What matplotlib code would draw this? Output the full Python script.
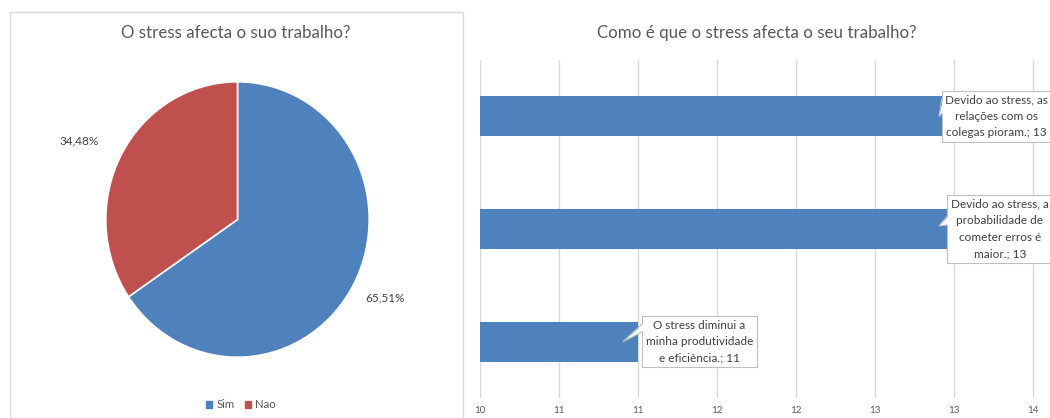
import math
import matplotlib
matplotlib.use("Agg")
import matplotlib.pyplot as plt
from matplotlib.patches import Rectangle, Patch, Polygon
from matplotlib.lines import Line2D

plt.rcParams['font.family'] = ['Lato', 'DejaVu Sans']

# ---- data ----
pie_labels = ["Sim", "Nao"]
pie_values = [65.51, 34.48]
pie_colors = ["#4F81BD", "#C0504D"]

bar_categories = [
    "Devido ao stress, as\nrelações com os\ncolegas pioram.",
    "Devido ao stress, a\nprobabilidade de\ncometer erros é\nmaior.",
    "O stress diminui a\nminha produtividade\ne eficiência.",
]
bar_values = [13, 13, 11]
bar_color = "#4F81BD"
x_ticks = [10, 10.5, 11, 11.5, 12, 12.5, 13, 13.5]
x_ticklabels = ["10", "11", "11", "12", "12", "13", "13", "14"]

TXT = "#595959"
GRID = "#D9D9D9"
CALL_EC = "#BFBFBF"
W, H = 1050, 418

fig = plt.figure(figsize=(W / 100, H / 100), dpi=100)


def fx(px):
    return px / W


def fy(py):
    return 1 - py / H


# left panel border
fig.patches.append(Rectangle((fx(10), fy(418)), fx(463) - fx(10), fy(12) - fy(418),
                             transform=fig.transFigure, fill=False, ec=GRID, lw=1.0))

# ---- pie (slightly elliptical, as in the reference) ----
cx, cy, rx, ry = 237.5, 219.5, 131.7, 137.7
axp = fig.add_axes([fx(cx - rx), fy(cy + ry), (2 * rx) / W, (2 * ry) / H])
axp.pie(pie_values, colors=pie_colors, startangle=90, counterclock=False,
        wedgeprops=dict(edgecolor="white", linewidth=1.2))
axp.set_xlim(-1, 1)
axp.set_ylim(-1, 1)
axp.set_aspect("auto")
axp.axis("off")
total = sum(pie_values)
start = 90.0
label_pos = [(1.26, 0.9), (1.33, 2.5)]  # (distance, angle tweak)
for v, (dist, dang) in zip(pie_values, label_pos):
    ang = start - v / total * 360 / 2 + dang
    start -= v / total * 360
    t = math.radians(ang)
    axp.text(dist * math.cos(t), dist * math.sin(t), f"{v:.2f}%".replace(".", ","),
             ha="center", va="center", fontsize=8.5, color="#404040", clip_on=False)

fig.text(fx(236), fy(33), "O stress afecta o suo trabalho?", ha="center", va="center",
         fontsize=12.2, color=TXT)
fig.legend(handles=[Patch(color=c, label=l) for c, l in zip(pie_colors, pie_labels)],
           loc="center", bbox_to_anchor=(fx(241), fy(405)), ncol=2, frameon=False,
           fontsize=8.2, handlelength=0.55, handleheight=0.55, columnspacing=0.9,
           handletextpad=0.35, labelcolor=TXT)

# ---- bars ----
axb = fig.add_axes([fx(480), fy(398), fx(1050) - fx(480), fy(60) - fy(398)])
ypos = list(range(len(bar_categories)))
axb.barh(ypos, [v - 10 for v in bar_values], left=10, height=0.355, color=bar_color, zorder=2)
axb.set_xlim(10, 10 + (1050 - 480) / 158)
axb.set_ylim(len(bar_categories) - 0.5, -0.5)
axb.set_xticks(x_ticks)
axb.set_xticklabels(x_ticklabels)
axb.set_yticks([])
axb.grid(axis="x", color=GRID, lw=1.0, zorder=0)
axb.tick_params(axis="x", length=0, labelsize=7, labelcolor=TXT, pad=6)
for s in axb.spines.values():
    s.set_visible(False)

fig.text(fx(757), fy(33), "Como é que o stress afecta o seu trabalho?", ha="center",
         va="center", fontsize=12.2, color=TXT)

text_dx = [0.27, 0.29, 0.39]
text_dy = [0.0, 0.0, 0.0]
texts = []
for i, (cat, v) in enumerate(zip(bar_categories, bar_values)):
    t = axb.text(v + text_dx[i], i + text_dy[i], f"{cat}; {v}", ha="center", va="center",
                 fontsize=8.5, color="#404040", linespacing=1.6, zorder=5, clip_on=False,
                 bbox=dict(boxstyle="square,pad=0.3", fc="white", ec=CALL_EC, lw=0.8))
    texts.append(t)

# callout pointers: computed from the rendered box extents
fig.canvas.draw()
renderer = fig.canvas.get_renderer()
tip_dy_px = [0, -3, 0]   # pixel offset (downwards positive in image) of tip
base_px = [(17, 3), (10, 1), (18, 10)]  # base span above the tip, in pixels
inv = fig.transFigure.inverted()
for i, (t, v) in enumerate(zip(texts, bar_values)):
    bb = t.get_bbox_patch().get_window_extent(renderer)
    tip_disp = axb.transData.transform((v, i))
    tip_x = tip_disp[0] - 15
    tip_y = tip_disp[1] - tip_dy_px[i]
    bx = bb.x0
    b_top = tip_y + base_px[i][0]
    b_bot = tip_y + base_px[i][1]
    pts_disp = [(bx + 1.5, b_top), (tip_x, tip_y), (bx + 1.5, b_bot)]
    pts = [inv.transform(p) for p in pts_disp]
    fig.patches.append(Polygon(pts, closed=True, transform=fig.transFigure, fc="white",
                               ec="none", zorder=6))
    a = inv.transform((bx, b_top))
    b = inv.transform((tip_x, tip_y))
    c = inv.transform((bx, b_bot))
    fig.lines.append(Line2D([a[0], b[0], c[0]], [a[1], b[1], c[1]], transform=fig.transFigure,
                            color=CALL_EC, lw=0.8, zorder=7))

fig.savefig("out.png", dpi=100)
